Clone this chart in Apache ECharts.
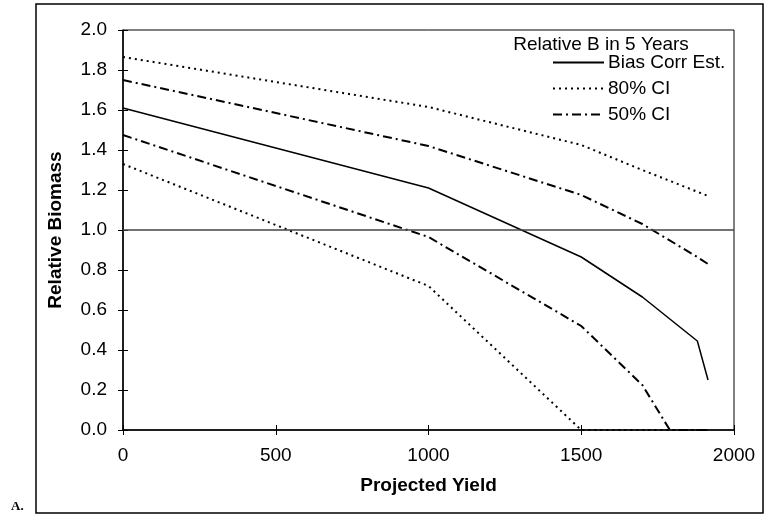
<!DOCTYPE html>
<html>
<head>
<meta charset="utf-8">
<script src="https://cdn.jsdelivr.net/npm/echarts@6/dist/echarts.min.js"></script>
<style>html,body{margin:0;padding:0;background:#fff}#c{width:765px;height:517px}</style>
</head>
<body>
<div id="c"></div>
<script>
// ---- data ----
const xTicks = [0, 500, 1000, 1500, 2000];
const yTicks = [0.0, 0.2, 0.4, 0.6, 0.8, 1.0, 1.2, 1.4, 1.6, 1.8, 2.0];

const yieldMain = [0, 1000, 1500, 1700, 1880, 1915];
const biasCorr  = [1.61, 1.21, 0.865, 0.665, 0.445, 0.25];

const yieldUp80 = [0, 1000, 1500, 1700, 1915];
const upper80   = [1.865, 1.615, 1.425, 1.30, 1.17];

const yieldUp50 = [0, 1000, 1500, 1700, 1880, 1915];
const upper50   = [1.75, 1.42, 1.175, 1.03, 0.865, 0.83];

const yieldLo50 = [0, 1000, 1500, 1700, 1790, 1915];
const lower50   = [1.475, 0.965, 0.52, 0.225, 0.0, 0.0];

const yieldLo80 = [0, 1000, 1500, 1915];
const lower80   = [1.33, 0.72, 0.0, 0.0];

const refLevel = 1.0;
const legendTitle = 'Relative B in 5 Years';
const names = ['Bias Corr Est.', '80% CI', '50% CI'];

function pairs(xs, ys) { return xs.map((x, i) => [x, ys[i]]); }

const FONT = 'Liberation Sans, Arial, sans-serif';
const chart = echarts.init(document.getElementById('c'), null, {renderer: 'canvas'});

const dotted = {color: '#000', width: 2, type: [2, 4]};
const dashDot = {color: '#000', width: 2, type: [9, 4, 2, 4]};

chart.setOption({
  animation: false,
  backgroundColor: '#fff',
  grid: {left: 123, right: 31, top: 30, bottom: 87, show: true, borderColor: '#000', borderWidth: 1},
  legend: {
    orient: 'vertical', left: 552, top: 53, padding: 0,
    itemWidth: 51, itemHeight: 14, itemGap: 7, itemStyle: {opacity: 0},
    textStyle: {fontFamily: FONT, fontSize: 19, lineHeight: 19, color: '#000', padding: [0, 0, 0, -1]},
    data: names
  },
  xAxis: [{
    type: 'value', min: 0, max: 2000, interval: 500,
    axisLine: {lineStyle: {color: '#000', width: 1.5}},
    axisTick: {show: true, length: 5, lineStyle: {color: '#000'}},
    axisLabel: {fontFamily: FONT, fontSize: 19, color: '#000', margin: 16,
      formatter: v => String(v)},
    splitLine: {show: false},
    name: 'Projected Yield', nameLocation: 'middle', nameGap: 46,
    nameTextStyle: {fontFamily: FONT, fontSize: 19, fontWeight: 'bold', color: '#000'}
  }, {
    type: 'value', min: 0, max: 2000, interval: 500, position: 'bottom',
    axisLine: {show: false}, axisLabel: {show: false}, splitLine: {show: false},
    axisTick: {show: true, inside: true, length: 5, lineStyle: {color: '#000'}}
  }],
  yAxis: [{
    type: 'value', min: 0, max: 2, interval: 0.2,
    axisLine: {show: true, lineStyle: {color: '#000', width: 1.5}},
    axisTick: {show: true, length: 5, lineStyle: {color: '#000'}},
    axisLabel: {fontFamily: FONT, fontSize: 19, color: '#000', margin: 16,
      formatter: v => v.toFixed(1)},
    splitLine: {show: false},
    name: 'Relative Biomass', nameLocation: 'middle', nameGap: 58,
    nameTextStyle: {fontFamily: FONT, fontSize: 19, fontWeight: 'bold', color: '#000'}
  }, {
    type: 'value', min: 0, max: 2, interval: 0.2, position: 'left',
    axisLine: {show: false}, axisLabel: {show: false}, splitLine: {show: false},
    axisTick: {show: true, inside: true, length: 5, lineStyle: {color: '#000'}}
  }],
  graphic: [
    {type: 'rect', shape: {x: 36, y: 4, width: 727, height: 509}, style: {fill: 'none', stroke: '#000', lineWidth: 1.5}, silent: true},
    {type: 'text', x: 601, y: 45, style: {text: legendTitle, font: '19px ' + FONT, fill: '#000', textAlign: 'center', textVerticalAlign: 'middle'}},
    {type: 'text', x: 11, y: 507, style: {text: 'A.', font: 'bold 13px "Liberation Serif", "DejaVu Serif", serif', fill: '#000', textAlign: 'left', textVerticalAlign: 'middle'}}
  ],
  series: [
    {name: names[0], type: 'line', symbol: 'none', data: pairs(yieldMain, biasCorr),
     lineStyle: {color: '#000', width: 1.5, type: 'solid'}, itemStyle: {color: '#000'}, z: 3,
     markLine: {silent: true, symbol: 'none', label: {show: false},
       lineStyle: {color: '#444', width: 1.5, type: 'solid'}, data: [{yAxis: refLevel}]}},
    {name: names[1], type: 'line', symbol: 'none', data: pairs(yieldUp80, upper80), lineStyle: dotted, itemStyle: {color: '#000'}},
    {name: names[1], type: 'line', symbol: 'none', data: pairs(yieldLo80, lower80), lineStyle: dotted, itemStyle: {color: '#000'}},
    {name: names[2], type: 'line', symbol: 'none', data: pairs(yieldUp50, upper50), lineStyle: dashDot, itemStyle: {color: '#000'}},
    {name: names[2], type: 'line', symbol: 'none', data: pairs(yieldLo50, lower50), lineStyle: dashDot, itemStyle: {color: '#000'}}
  ]
});
</script>
</body>
</html>
